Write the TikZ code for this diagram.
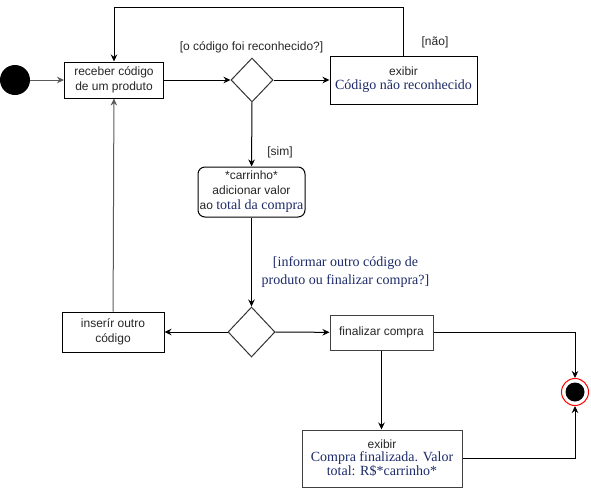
\documentclass[tikz,border=0pt]{standalone}
\usepackage{fontspec}
\setmainfont{Liberation Serif}
\setsansfont{Liberation Sans}
\usetikzlibrary{shapes.geometric,arrows.meta}
\definecolor{navy}{RGB}{28,42,105}
\definecolor{lgray}{RGB}{90,90,90}
\newcommand{\sertxt}[1]{{\rmfamily\fontsize{14}{17}\selectfont\color{navy}#1}}
\tikzset{
  every node/.style={font=\sffamily\fontsize{12}{15}\selectfont, text=black!85},
  act/.style={draw=black, line width=1pt, align=center, inner sep=0pt},
  dec/.style={draw=black!80, line width=1pt, diamond, inner sep=0pt},
  flow/.style={draw=black, line width=1pt, -{Stealth[length=7pt,width=6.5pt]}},
  ser/.style={font=\rmfamily\fontsize{14}{18}\selectfont, text=navy},
}
\begin{document}
\begin{tikzpicture}[x=1pt,y=1pt]
\useasboundingbox (0,0) rectangle (591,-488);
% start
\node[circle, fill=black, minimum size=30pt, inner sep=0pt] (start) at (15,-80) {};
\node[act, minimum width=99pt, minimum height=36pt] (rec) at (114,-80) {receber código\\de um produto};
\node[dec, minimum width=42pt, minimum height=44pt] (d1) at (252,-80) {};
\node[act, minimum width=147pt, minimum height=48pt] (ex1) at (403.5,-80)
  {exibir\\[-1pt]\sertxt{Código não reconhecido}};
\node[act, rounded corners=7pt, minimum width=107pt, minimum height=50pt] (car) at (251.5,-192)
  {*carrinho*\\adicionar valor\\ao \sertxt{total da compra}};
\node[dec, minimum width=47pt, minimum height=50pt] (d2) at (251.5,-332) {};
\node[act, minimum width=102pt, minimum height=40pt] (ins) at (113,-332) {inserír outro\\código};
\node[act, draw=black!75, minimum width=103pt, minimum height=35pt] (fin) at (381.5,-332.5) {finalizar compra};
\node[act, draw=black!75, minimum width=160pt, minimum height=57pt] (ex2) at (382,-458.5)
  {exibir\\[-2pt]\sertxt{Compra finalizada. Valor}\\[-1pt]\sertxt{total: R\$*carrinho*}};
% end
\node[circle, draw=red, line width=1pt, fill=white, minimum size=27pt, inner sep=0pt] (end) at (575,-392) {};
\node[circle, fill=black, minimum size=19pt, inner sep=0pt] (endin) at (575,-392) {};
% guards
\node (g1) at (251.5,-47) {[o código foi reconhecido?]};
\node (g2) at (435,-42) {[não]};
\node (g3) at (280,-152) {[sim]};
\node[ser, align=center] (g4) at (345.5,-272) {[informar outro código de\\produto ou finalizar compra?]};
% connectors
\coordinate (lt) at (403.5,-7);
\coordinate (lu) at (114,-7);
\draw[flow, draw=lgray] (start) -- (rec);
\draw[flow] (rec) -- (d1);
\draw[flow] (d1) -- (ex1);
\draw[flow] (ex1.north) -- (lt) -- (lu) -- (rec.north);
\draw[flow] (d1) -- (car);
\draw[flow] (car) -- (d2);
\draw[flow] (d2) -- (ins);
\draw[flow, draw=lgray] (ins) -- (rec);
\draw[flow] (d2) -- (fin);
\draw[flow] (fin.east) -| (end.north);
\draw[flow] (fin) -- (fin.south |- ex2.north);
\draw[flow] (ex2.east) -| (end.south);
\end{tikzpicture}
\end{document}
